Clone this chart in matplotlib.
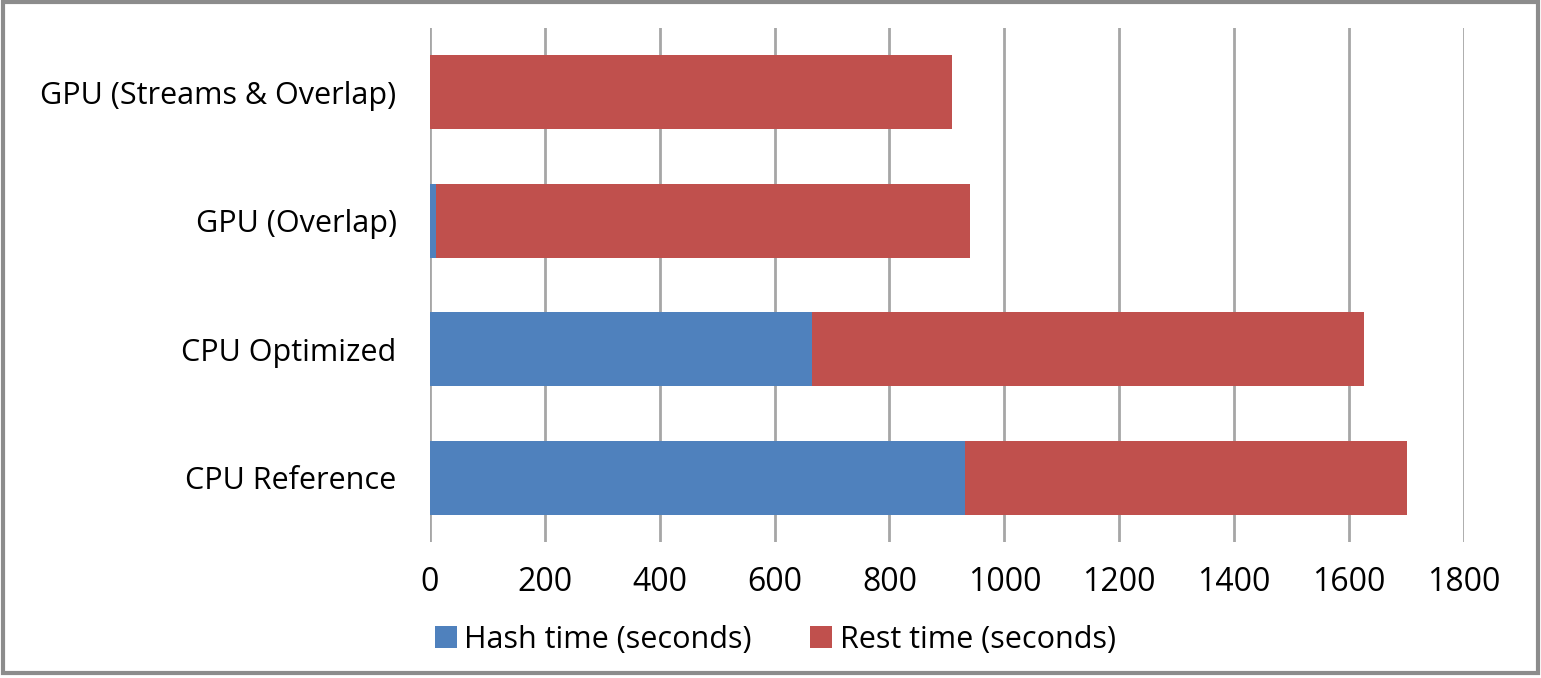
import matplotlib.pyplot as plt
from matplotlib.patches import Rectangle

plt.rcParams['font.family'] = ['Open Sans', 'DejaVu Sans']

# Data (bottom to top)
categories = ["CPU Reference", "CPU Optimized", "GPU (Overlap)", "GPU (Streams & Overlap)"]
hash_time = [931, 665, 10, 0]
total_time = [1701, 1626, 940, 908]
rest_time = [t - h for t, h in zip(total_time, hash_time)]
x_ticks = [0, 200, 400, 600, 800, 1000, 1200, 1400, 1600, 1800]

BLUE = '#4F81BD'
RED = '#C0504D'
GRID = '#A6A6A6'

fig = plt.figure(figsize=(15.41, 6.78), dpi=100)
ax = fig.add_axes([0.279, 0.2006, 0.671, 0.7585])

ypos = range(len(categories))
ax.barh(ypos, hash_time, height=0.575, color=BLUE, label="Hash time (seconds)")
ax.barh(ypos, rest_time, left=hash_time, height=0.575, color=RED, label="Rest time (seconds)")

ax.set_xlim(0, 1800)
ax.set_ylim(-0.5, len(categories) - 0.5)
ax.set_xticks(x_ticks)
ax.set_yticks(list(ypos))
ax.set_yticklabels(categories)

ax.grid(axis='x', color=GRID, linewidth=2)
ax.set_axisbelow(True)
for s in ax.spines.values():
    s.set_visible(False)

ax.tick_params(axis='y', length=0, pad=24, labelsize=22)
ax.tick_params(axis='x', length=0, pad=17, labelsize=23)

fig.legend(loc='center', bbox_to_anchor=(0.503, 0.056), ncol=2, frameon=False,
           fontsize=22, handlelength=0.72, handleheight=0.72, handletextpad=0.25,
           columnspacing=1.9)

# outer frame
fig.patches.append(Rectangle((0.002, 0.008), 0.996, 0.989, transform=fig.transFigure,
                             fill=False, edgecolor='#8C8C8C', linewidth=3))

fig.savefig('out.png', dpi=100)
